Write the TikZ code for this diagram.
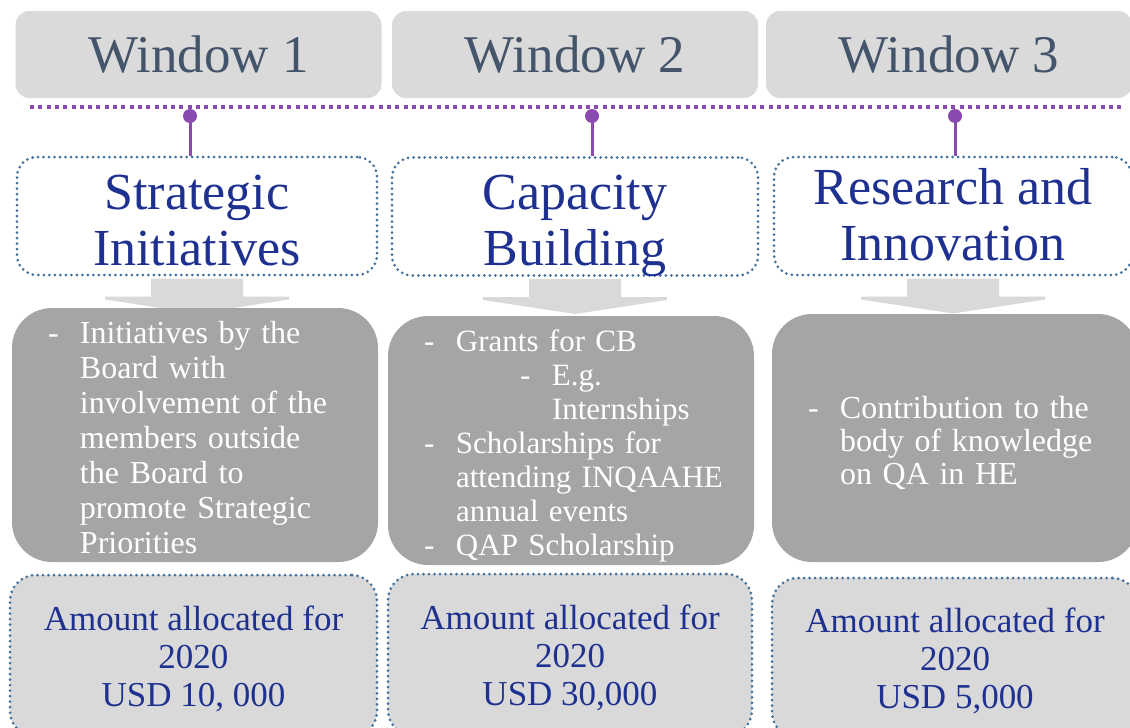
\documentclass[tikz,border=0pt]{standalone}
\usepackage{fontspec}
\setmainfont{Liberation Serif}
\usetikzlibrary{positioning,calc}

\definecolor{hdrgrey}{HTML}{DADADA}
\definecolor{hdrtext}{HTML}{44546A}
\definecolor{pinpurple}{HTML}{8A4AAF}
\definecolor{dotblue}{HTML}{41719C}
\definecolor{navy}{HTML}{1F3190}
\definecolor{boxgrey}{HTML}{A5A5A5}
\definecolor{amtgrey}{HTML}{D9D9D9}

\newcommand{\dashpt}{\makebox[32pt][l]{-}}
\newcommand{\itemgap}{\hspace*{32pt}}
% move height to depth so the text sits lower in its box
\newcommand{\lowstack}[2]{\raisebox{0pt}[\dimexpr\height+#1\relax][\dimexpr\depth-#1\relax]{\begin{tabular}{@{}c@{}}#2\end{tabular}}}
\newcommand{\lowlist}[2]{\raisebox{0pt}[\dimexpr\height+#1\relax][\dimexpr\depth-#1\relax]{\begin{tabular}{@{}l@{}}#2\end{tabular}}}

\begin{document}
\begin{tikzpicture}[x=1pt,y=-1pt,
  window/.style={rectangle,rounded corners=14pt,fill=hdrgrey,minimum width=366pt,
    minimum height=87pt,text=hdrtext,font=\fontsize{53}{56}\selectfont},
  area/.style={rectangle,rounded corners=20pt,draw=dotblue,line width=3pt,
    dash pattern=on 0pt off 5.5pt,line cap=round,fill=white,minimum height=118pt,
    inner ysep=2pt,text=navy,font=\fontsize{52}{56}\selectfont},
  items/.style={rectangle,rounded corners=40pt,fill=boxgrey,minimum width=366pt,
    text width=294pt,inner xsep=36pt,inner ysep=0pt,text=white,align=left,
    font=\fontsize{32}{35}\selectfont},
  amount/.style={area,fill=amtgrey,rounded corners=26pt,minimum height=162pt,
    font=\fontsize{35}{38}\selectfont},
  flow/.style={fill=amtgrey}
]
\useasboundingbox[fill=white] (0,0) rectangle (1130,728);

% windows
\node[window] (w1) at (198.5,54.5) {Window 1};
\node[window] (w2) at (575,54.5) {Window 2};
\node[window] (w3) at (949,54.5) {Window 3};

% purple time line and pins
\coordinate (lineL) at (30,107);
\coordinate (lineR) at (1122,107);
\draw[pinpurple,line width=4pt,dash pattern=on 4pt off 4.3pt] (lineL) -- (lineR);

\node[area,minimum width=360pt] (t1) at (197,216) {\lowstack{10pt}{Strategic\\Initiatives}};
\node[area,minimum width=366pt] (t2) at (575,216.5) {\lowstack{10pt}{Capacity\\Building}};
\node[area,minimum width=358pt] (t3) at (953,216) {\lowstack{5pt}{Research and\\Innovation}};

\coordinate (p1) at (190,116);
\coordinate (p2) at (592,116);
\coordinate (p3) at (955,116);
\foreach \p/\t in {p1/t1,p2/t2,p3/t3}{
  \draw[pinpurple,line width=3pt] (\p) -- (\p |- \t.north);
  \fill[pinpurple] (\p) circle (7pt);
}

% block arrows
\foreach \t in {t1,t2,t3}{
  \fill[flow] ($(\t.south)+(-46,2)$) -- ($(\t.south)+(-46,20)$)
    -- ($(\t.south)+(-92,20)$) -- ($(\t.south)+(-92,23)$)
    -- ($(\t.south)+(0,37)$) -- ($(\t.south)+(92,23)$)
    -- ($(\t.south)+(92,20)$) -- ($(\t.south)+(46,20)$)
    -- ($(\t.south)+(46,2)$) -- cycle;
}

% grey boxes
\node[items,minimum height=254pt] (c1) at (195,435) {\lowlist{6pt}{
\dashpt Initiatives by the\\
\itemgap Board with\\
\itemgap involvement of the\\
\itemgap members outside\\
\itemgap the Board to\\
\itemgap promote Strategic\\
\itemgap Priorities}};
\node[items,minimum height=249pt,font=\fontsize{31}{34}\selectfont] (c2) at (571,440.5) {\lowlist{6pt}{
\dashpt Grants for CB\\
\hspace*{96pt}\dashpt E.g.\\
\hspace*{128pt}Internships\\
\dashpt Scholarships for\\
\itemgap attending INQAAHE\\
\itemgap annual events\\
\dashpt QAP Scholarship}};
\node[items,minimum height=248pt,font=\fontsize{32}{33}\selectfont] (c3) at (955,438) {\lowlist{7pt}{
\dashpt Contribution to the\\
\itemgap body of knowledge\\
\itemgap on QA in HE}};

% amounts
\node[amount,minimum width=367pt] (b1) at (193.5,656) {\lowstack{5pt}{Amount allocated for\\2020\\USD 10, 000}};
\node[amount,minimum width=364pt] (b2) at (570,655) {\lowstack{5pt}{Amount allocated for\\2020\\USD 30,000}};
\node[amount,minimum width=366pt,minimum height=160pt] (b3) at (955,658) {\lowstack{5pt}{Amount allocated for\\2020\\USD 5,000}};
\end{tikzpicture}
\end{document}
